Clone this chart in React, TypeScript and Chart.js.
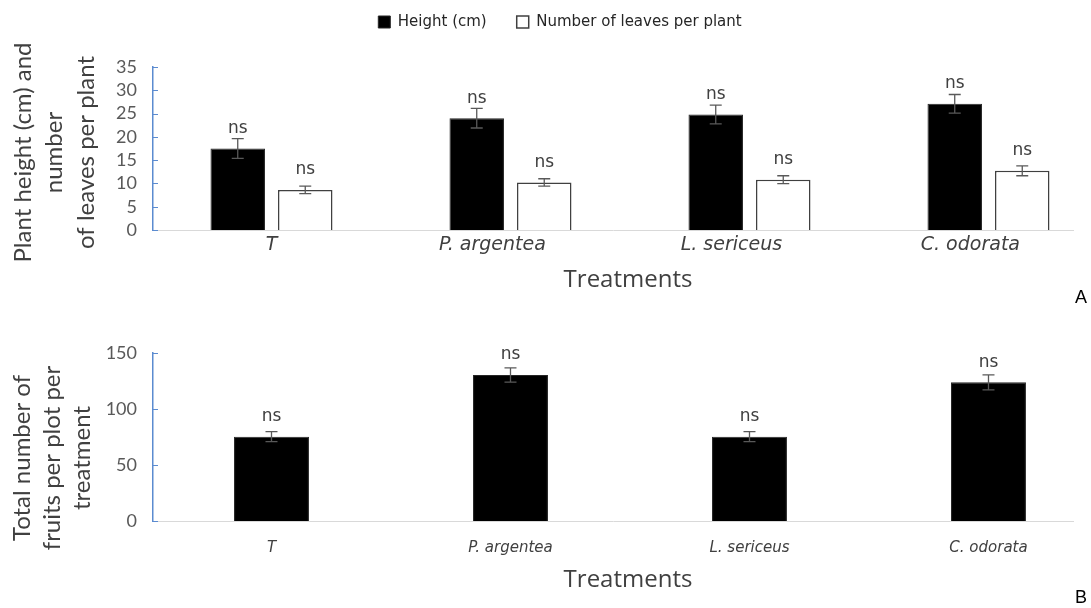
import React, { useEffect, useRef } from 'react';
import { Chart, registerables } from 'chart.js';

Chart.register(...registerables);

// ---------- data ----------
const categories = ['T', 'P. argentea', 'L. sericeus', 'C. odorata'];
// top panel tick labels carry trailing spaces (as in the source figure)
const topTickLabels = ['T', 'P. argentea      ', 'L. sericeus      ', 'C. odorata      '];
const legendLabels = ['Height (cm)', 'Number of leaves per plant'];
const heightValues = [17.5, 24.0, 24.8, 27.1];
const heightErrors = [2.1, 2.1, 2.0, 2.0];
const leavesValues = [8.6, 10.2, 10.8, 12.7];
const leavesErrors = [0.8, 0.8, 0.85, 1.05];
const fruitValues = [75.3, 130.4, 75.3, 123.8];
const fruitErrors = [4.5, 6.4, 4.5, 6.7];
const topYTitle = ['Plant height (cm) and', 'number', 'of leaves per plant'];
const bottomYTitle = ['Total number of', 'fruits per plot per', 'treatment'];
const xTitle = 'Treatments';
const sigLabel = 'ns';
const panelLabels = ['A', 'B'];

// ---------- plugins ----------
const errorBarPlugin = {
  id: 'errorBars',
  afterDatasetsDraw(chart: any) {
    const ctx = chart.ctx;
    const yScale = chart.scales.y;
    chart.data.datasets.forEach((ds: any, di: number) => {
      const meta = chart.getDatasetMeta(di);
      const errs = ds.errors as number[];
      if (!errs) return;
      meta.data.forEach((el: any, i: number) => {
        const v = ds.data[i].y;
        const yTop = yScale.getPixelForValue(v + errs[i]);
        const yBot = yScale.getPixelForValue(v - errs[i]);
        ctx.save();
        ctx.strokeStyle = '#595959';
        ctx.lineWidth = 1.3;
        ctx.beginPath();
        ctx.moveTo(el.x, yTop);
        ctx.lineTo(el.x, yBot);
        ctx.moveTo(el.x - 6, yTop);
        ctx.lineTo(el.x + 6, yTop);
        ctx.moveTo(el.x - 6, yBot);
        ctx.lineTo(el.x + 6, yBot);
        ctx.stroke();
        ctx.fillStyle = '#404040';
        ctx.font = '17px "DejaVu Sans"';
        ctx.textAlign = 'center';
        ctx.textBaseline = 'alphabetic';
        ctx.fillText(sigLabel, el.x, el.y - 15.7);
        ctx.restore();
      });
    });
  },
};

const innerTickPlugin = {
  id: 'innerTicks',
  afterDraw(chart: any) {
    const ctx = chart.ctx;
    const y = chart.scales.y;
    const left = chart.chartArea.left;
    ctx.save();
    ctx.strokeStyle = '#5b8bd0';
    ctx.lineWidth = 1.2;
    ctx.beginPath();
    y.ticks.forEach((t: any) => {
      const py = Math.round(y.getPixelForValue(t.value)) + 0.5;
      ctx.moveTo(left, py);
      ctx.lineTo(left + 5, py);
    });
    ctx.stroke();
    ctx.restore();
  },
};

function makeYTitlePlugin(lines: string[], x0: number, lineHeight: number, dy: number) {
  return {
    id: 'yTitle',
    afterDraw(chart: any) {
      const { ctx, chartArea } = chart;
      ctx.save();
      ctx.translate(x0, (chartArea.top + chartArea.bottom) / 2 + dy);
      ctx.rotate(-Math.PI / 2);
      ctx.font = '24px Lato';
      ctx.fillStyle = '#404040';
      ctx.textAlign = 'center';
      ctx.textBaseline = 'middle';
      lines.forEach((l, i) => ctx.fillText(l, 0, i * lineHeight));
      ctx.restore();
    },
  };
}

function makeXTitlePlugin(text: string, dx: number, fromBottom: number) {
  return {
    id: 'xTitle',
    afterDraw(chart: any) {
      const { ctx, chartArea } = chart;
      ctx.save();
      ctx.font = '24px "Open Sans"';
      ctx.fillStyle = '#404040';
      ctx.textAlign = 'center';
      ctx.textBaseline = 'middle';
      ctx.fillText(text, (chartArea.left + chartArea.right) / 2 + dx, chart.height - fromBottom);
      ctx.restore();
    },
  };
}

const xMin = -0.4958;
const xMax = 3.3536;

function xScale(height: number, fontSize: number, tickPad: number, labels: string[]) {
  return {
    type: 'linear',
    min: xMin,
    max: xMax,
    offset: false,
    afterBuildTicks: (axis: any) => {
      axis.ticks = labels.map((_, i) => ({ value: i }));
    },
    afterFit: (s: any) => {
      s.height = height;
    },
    grid: { display: false, drawTicks: false },
    border: { display: true, color: '#d9d9d9', width: 1 },
    ticks: {
      autoSkip: false,
      maxRotation: 0,
      padding: tickPad,
      color: '#404040',
      font: { family: 'DejaVu Sans', size: fontSize, style: 'italic' },
      callback: (v: any) => labels[v] ?? '',
    },
  };
}

function yScale(max: number, step: number, width: number) {
  return {
    min: 0,
    max,
    afterFit: (s: any) => {
      s.width = width;
    },
    grid: { display: false, drawTicks: false },
    border: { display: true, color: '#5b8bd0', width: 1.5 },
    ticks: {
      stepSize: step,
      autoSkip: false,
      padding: 16,
      color: '#595959',
      font: { family: 'Lato', size: 18 },
    },
  };
}

export default function App() {
  const topRef = useRef<HTMLCanvasElement>(null);
  const botRef = useRef<HTMLCanvasElement>(null);

  useEffect(() => {
    const top = new Chart(topRef.current as HTMLCanvasElement, {
      type: 'bar',
      data: {
        datasets: [
          {
            label: legendLabels[0],
            data: heightValues.map((y, i) => ({ x: i, y })),
            errors: heightErrors,
            backgroundColor: '#000000',
            borderColor: '#262626',
            borderWidth: 1,
            categoryPercentage: 0.565,
            barPercentage: 0.807,
          } as any,
          {
            label: legendLabels[1],
            data: leavesValues.map((y, i) => ({ x: i, y })),
            errors: leavesErrors,
            backgroundColor: '#ffffff',
            borderColor: '#404040',
            borderWidth: 1.5,
            categoryPercentage: 0.565,
            barPercentage: 0.807,
          } as any,
        ],
      },
      options: {
        animation: false,
        responsive: false,
        layout: { padding: { left: 47, right: 18, top: -15.5, bottom: 0 } },
        scales: {
          x: xScale(70, 19, 4, topTickLabels) as any,
          xt: {
            type: 'linear',
            position: 'top',
            display: true,
            grid: { display: false, drawTicks: false },
            border: { display: false },
            ticks: { display: false },
            afterFit: (s: any) => {
              s.height = 27.5;
            },
          } as any,
          y: yScale(35, 5, 106) as any,
        },
        plugins: {
          legend: {
            display: true,
            position: 'top',
            labels: {
              boxWidth: 12,
              boxHeight: 12,
              padding: 30,
              color: '#262626',
              font: { family: 'DejaVu Sans', size: 15 },
            },
          },
          tooltip: { enabled: false },
        },
      },
      plugins: [errorBarPlugin, innerTickPlugin, makeYTitlePlugin(topYTitle, 23, 31.5, 4), makeXTitlePlugin(xTitle, 15, 20)],
    } as any);

    const bottom = new Chart(botRef.current as HTMLCanvasElement, {
      type: 'bar',
      data: {
        datasets: [
          {
            label: 'Fruits',
            data: fruitValues.map((y, i) => ({ x: i, y })),
            errors: fruitErrors,
            backgroundColor: '#000000',
            borderColor: '#262626',
            borderWidth: 1,
            categoryPercentage: 0.8,
            barPercentage: 0.392,
          } as any,
        ],
      },
      options: {
        animation: false,
        responsive: false,
        layout: { padding: { left: 0, right: 18, top: 53, bottom: 0 } },
        scales: {
          x: xScale(87, 15, 17.7, categories) as any,
          y: yScale(150, 50, 153) as any,
        },
        plugins: {
          legend: { display: false },
          tooltip: { enabled: false },
        },
      },
      plugins: [errorBarPlugin, innerTickPlugin, makeYTitlePlugin(bottomYTitle, 22, 30, 21), makeXTitlePlugin(xTitle, 15, 28)],
    } as any);

    return () => {
      top.destroy();
      bottom.destroy();
    };
  }, []);

  const panelStyle: React.CSSProperties = {
    position: 'absolute',
    left: 1075,
    fontFamily: '"Liberation Sans", Arial, sans-serif',
    fontSize: 18,
    color: '#000',
    lineHeight: '20px',
  };

  return (
    <div style={{ position: 'absolute', left: 0, top: 0, width: 1091, height: 608, background: '#fff', overflow: 'hidden' }}>
      <canvas ref={topRef} width={1091} height={300} style={{ position: 'absolute', left: 0, top: 0 }} />
      <canvas ref={botRef} width={1091} height={308} style={{ position: 'absolute', left: 0, top: 300 }} />
      <div style={{ ...panelStyle, top: 287 }}>{panelLabels[0]}</div>
      <div style={{ ...panelStyle, top: 587 }}>{panelLabels[1]}</div>
    </div>
  );
}
